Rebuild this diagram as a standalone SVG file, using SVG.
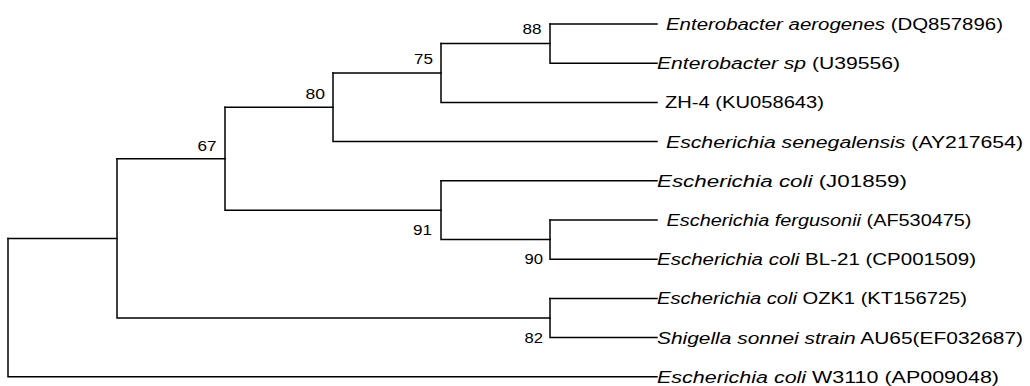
<svg xmlns="http://www.w3.org/2000/svg" width="1030" height="386" viewBox="0 0 1030 386">
<style>
.br{fill:none;stroke:#000;stroke-width:1.5;stroke-linecap:square}
.lb{font-family:"Liberation Sans",Arial,sans-serif;font-size:16px;fill:#000}
.bs{font-family:"Liberation Sans",Arial,sans-serif;font-size:15.5px;fill:#000}
.it{font-style:italic}
</style>
<rect width="1030" height="386" fill="#fff"/>
<g id="connectors">
<path class="br" d="M8,238.4 V376.8 H657"/>
<path class="br" d="M8,238.4 H117"/>
<path class="br" d="M117,158.8 V318 H550"/>
<path class="br" d="M117,158.8 H225"/>
<path class="br" d="M225,107.3 V210.2 H441"/>
<path class="br" d="M225,107.3 H333"/>
<path class="br" d="M333,73 V141.6 H657"/>
<path class="br" d="M333,73 H441"/>
<path class="br" d="M441,43.6 V102.4 H657"/>
<path class="br" d="M441,43.6 H550"/>
<path class="br" d="M550,24 V63.2 H657"/>
<path class="br" d="M550,24 H657"/>
<path class="br" d="M441,180.8 V239.6 H550"/>
<path class="br" d="M441,180.8 H657"/>
<path class="br" d="M550,220 V259.2 H657"/>
<path class="br" d="M550,220 H657"/>
<path class="br" d="M550,298.4 V337.6 H657"/>
<path class="br" d="M550,298.4 H657"/>
</g>
<g id="leaf-aerogenes"><text class="lb" x="666" y="30" textLength="337" lengthAdjust="spacingAndGlyphs"><tspan class="it">Enterobacter aerogenes</tspan> (DQ857896)</text></g>
<g id="leaf-sp"><text class="lb" x="657" y="69.2" textLength="243" lengthAdjust="spacingAndGlyphs"><tspan class="it">Enterobacter sp</tspan> (U39556)</text></g>
<g id="leaf-zh4"><text class="lb" x="665" y="108.4" textLength="159" lengthAdjust="spacingAndGlyphs">ZH-4 (KU058643)</text></g>
<g id="leaf-senegalensis"><text class="lb" x="666" y="147.6" textLength="357" lengthAdjust="spacingAndGlyphs"><tspan class="it">Escherichia senegalensis</tspan> (AY217654)</text></g>
<g id="leaf-coli-j01859"><text class="lb" x="657" y="186.8" textLength="250" lengthAdjust="spacingAndGlyphs"><tspan class="it">Escherichia coli</tspan> (J01859)</text></g>
<g id="leaf-fergusonii"><text class="lb" x="666.5" y="226" textLength="305" lengthAdjust="spacingAndGlyphs"><tspan class="it">Escherichia fergusonii</tspan> (AF530475)</text></g>
<g id="leaf-bl21"><text class="lb" x="657" y="265.2" textLength="319" lengthAdjust="spacingAndGlyphs"><tspan class="it">Escherichia coli</tspan> BL-21 (CP001509)</text></g>
<g id="leaf-ozk1"><text class="lb" x="657" y="304.4" textLength="310" lengthAdjust="spacingAndGlyphs"><tspan class="it">Escherichia coli</tspan> OZK1 (KT156725)</text></g>
<g id="leaf-shigella"><text class="lb" x="657" y="343.6" textLength="366" lengthAdjust="spacingAndGlyphs"><tspan class="it">Shigella sonnei strain</tspan> AU65(EF032687)</text></g>
<g id="leaf-w3110"><text class="lb" x="657" y="382.8" textLength="342" lengthAdjust="spacingAndGlyphs"><tspan class="it">Escherichia coli</tspan> W3110 (AP009048)</text></g>
<g id="node-88"><text class="bs" x="522.5" y="33.5" textLength="19" lengthAdjust="spacingAndGlyphs">88</text></g>
<g id="node-75"><text class="bs" x="414" y="64" textLength="19" lengthAdjust="spacingAndGlyphs">75</text></g>
<g id="node-80"><text class="bs" x="305.5" y="99" textLength="19.5" lengthAdjust="spacingAndGlyphs">80</text></g>
<g id="node-67"><text class="bs" x="197.5" y="150.5" textLength="19" lengthAdjust="spacingAndGlyphs">67</text></g>
<g id="node-91"><text class="bs" x="413" y="235" textLength="19" lengthAdjust="spacingAndGlyphs">91</text></g>
<g id="node-90"><text class="bs" x="524.5" y="263.5" textLength="18.5" lengthAdjust="spacingAndGlyphs">90</text></g>
<g id="node-82"><text class="bs" x="524.5" y="342.5" textLength="18.5" lengthAdjust="spacingAndGlyphs">82</text></g>
</svg>
